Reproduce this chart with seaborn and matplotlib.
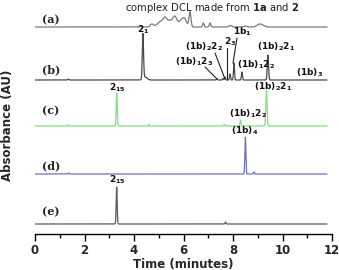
import numpy as np
import pandas as pd
import matplotlib
matplotlib.use("Agg")
import matplotlib.pyplot as plt
import seaborn as sns

sns.set_theme(style="white")
plt.rcParams['font.family'] = ['DejaVu Sans']

# ---- data ----
trace_names = ["(a)", "(b)", "(c)", "(d)", "(e)"]
trace_offsets = [207, 154, 108, 60, 10]
trace_colors = ["#7a7a7a", "#4a4a4a", "#7fe07f", "#7070c0", "#5a5a5a"]

# peak lists: retention time (min), height, width (min)
a_times = [4.72, 5.05, 5.25, 5.45, 5.65, 5.9, 6.05, 6.26, 6.8, 7.07, 7.9, 8.5, 9.1]
a_heights = [3, 5, 8, 6, 10, 6, 7, 15, 4, 4, 1.5, 1, 3]
a_widths = [0.06, 0.12, 0.08, 0.1, 0.08, 0.1, 0.08, 0.04, 0.03, 0.03, 0.06, 0.06, 0.12]

b_times = [1.35, 4.36, 4.45, 7.35, 7.6, 7.68, 7.88, 8.04, 8.36, 9.41]
b_heights = [1, 45, 3, 1.5, 1.5, 3, 6, 17, 8, 25]
b_widths = [0.02, 0.025, 0.08, 0.02, 0.02, 0.02, 0.02, 0.02, 0.02, 0.025]

c_times = [1.35, 3.3, 4.6, 7.65, 8.3, 9.35]
c_heights = [1, 33, 1.5, 1.5, 6, 36]
c_widths = [0.02, 0.02, 0.02, 0.02, 0.02, 0.025]

d_times = [1.35, 8.5, 8.85]
d_heights = [1, 37, 2]
d_widths = [0.02, 0.02, 0.02]

e_times = [3.3, 7.7]
e_heights = [37, 2]
e_widths = [0.02, 0.02]

peaks = [(a_times, a_heights, a_widths), (b_times, b_heights, b_widths),
         (c_times, c_heights, c_widths), (d_times, d_heights, d_widths),
         (e_times, e_heights, e_widths)]

time = np.linspace(0, 11.8, 3000)

frames = []
for name, off, (tt, hh, ww) in zip(trace_names, trace_offsets, peaks):
    y = np.full_like(time, off, dtype=float)
    for t0, h, w in zip(tt, hh, ww):
        y += h * np.exp(-0.5 * ((time - t0) / w) ** 2)
    frames.append(pd.DataFrame({"time": time, "abs": y, "trace": name}))
df = pd.concat(frames, ignore_index=True)

fig = plt.figure(figsize=(3.39, 2.70), dpi=100)
ax = fig.add_axes([35 / 339, 36 / 270, 297 / 339, 234 / 270])

sns.lineplot(data=df, x="time", y="abs", hue="trace", palette=trace_colors,
             hue_order=trace_names, ax=ax, linewidth=0.9, legend=False,
             estimator=None, sort=False)

ax.set_xlim(0, 12)
ax.set_ylim(0, 234)

for s in ["top", "right", "left"]:
    ax.spines[s].set_visible(False)
ax.spines["bottom"].set_color("black")
ax.spines["bottom"].set_linewidth(1.0)
ax.set_yticks([])
ax.set_xticks([0, 2, 4, 6, 8, 10, 12])
ax.set_xticks([1, 3, 5, 7, 9, 11], minor=True)
ax.tick_params(axis="x", which="major", bottom=True, direction="out", length=5,
               width=1, labelsize=8.5, pad=2, color="black")
ax.tick_params(axis="x", which="minor", bottom=True, direction="out", length=3,
               width=1, color="black")
for lbl in ax.get_xticklabels():
    lbl.set_fontweight("bold")
ax.set_xlabel("Time (minutes)", fontsize=8.5, fontweight="bold", labelpad=1)
ax.set_ylabel("")
fig.text(8 / 339, 1 - 125 / 270, "Absorbance (AU)", rotation=90, fontsize=8.5,
         fontweight="bold", ha="center", va="center")

def T(px):
    return (px - 35) / 24.75

def Y(py):
    return 234 - py

# trace letters
letter_y = [20, 70, 111, 166, 212]
for name, py in zip(trace_names, letter_y):
    ax.text(T(42), Y(py), name, fontsize=8, fontweight="bold", family="DejaVu Serif",
            ha="left", va="center", color="#222222")

ax.text(T(212), Y(8), r"complex DCL made from $\mathbf{1a}$ and $\mathbf{2}$",
        fontsize=7.2, ha="center", va="center", color="#222222")

lab = dict(fontsize=6.5, fontweight="bold", ha="center", va="center", color="#111111")
ax.text(T(143), Y(30), r"$\mathbf{2_1}$", **lab)
ax.text(T(194), Y(62), r"$\mathbf{(1b)_12_3}$", **lab)
ax.text(T(204), Y(47), r"$\mathbf{(1b)_22_2}$", **lab)
ax.text(T(230), Y(42), r"$\mathbf{2_3}$", **lab)
ax.text(T(242), Y(32), r"$\mathbf{1b_1}$", **lab)
ax.text(T(276), Y(47), r"$\mathbf{(1b)_22_1}$", **lab)
ax.text(T(256), Y(65), r"$\mathbf{(1b)_12_2}$", **lab)
ax.text(T(310), Y(73), r"$\mathbf{(1b)_3}$", **lab)
ax.text(T(117), Y(88), r"$\mathbf{2_{15}}$", **lab)
ax.text(T(273), Y(87), r"$\mathbf{(1b)_22_1}$", **lab)
ax.text(T(248), Y(114), r"$\mathbf{(1b)_12_2}$", **lab)
ax.text(T(245), Y(131), r"$\mathbf{(1b)_4}$", **lab)
ax.text(T(117), Y(180), r"$\mathbf{2_{15}}$", **lab)

# leader lines in (b)
leaders = [((205, 67), (217, 79)), ((215, 53), (225, 79)),
           ((227, 48), (227, 79)), ((237, 38), (233, 63))]
for (x0, y0), (x1, y1) in leaders:
    ax.plot([T(x0), T(x1)], [Y(y0), Y(y1)], color="#222222", lw=0.8)

fig.savefig("out.png", dpi=100)
